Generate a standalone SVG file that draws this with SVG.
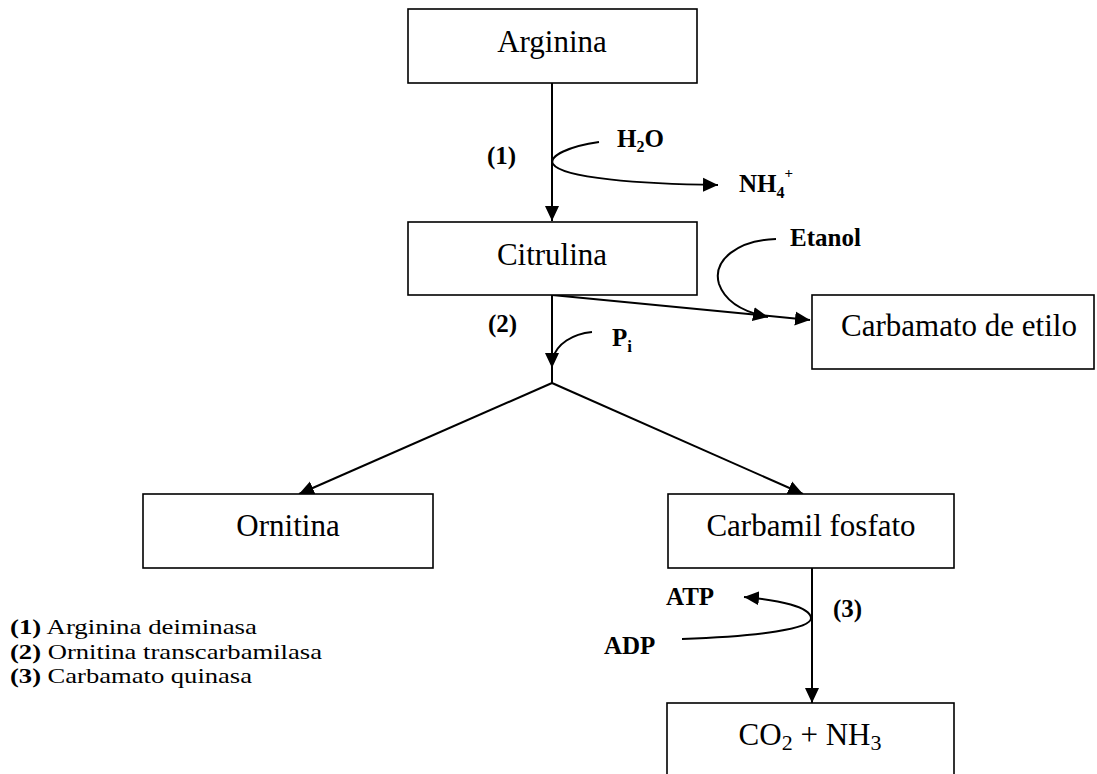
<svg xmlns="http://www.w3.org/2000/svg" width="1097" height="774" viewBox="0 0 1097 774">
<style>
.box{fill:#fff;stroke:#000;stroke-width:1.6}
.node{font-family:"Liberation Serif","Times New Roman",serif;font-size:31px;text-anchor:middle;fill:#000}
.lbl{font-family:"Liberation Serif","Times New Roman",serif;font-size:25px;font-weight:bold;fill:#000}
.leg{font-family:"Liberation Serif","Times New Roman",serif;font-size:22px;fill:#000}
.ln{fill:none;stroke:#000;stroke-width:2}
</style>
<defs>
<marker id="ah" markerUnits="userSpaceOnUse" markerWidth="16" markerHeight="16" viewBox="0 0 16 16" refX="15" refY="8" orient="auto">
<path d="M0,1 L15,8 L0,15 Z" fill="#000"/>
</marker>
</defs>
<g id="connectors">
<path class="ln" d="M552,83 L552,221" marker-end="url(#ah)"/>
<path class="ln" d="M599,142 C570,146 548,156 553,164 C562,178 640,184 718,185" marker-end="url(#ah)"/>
<path class="ln" d="M552,295 L552,368" marker-end="url(#ah)"/>
<path class="ln" d="M552,366 L552,383"/>
<path class="ln" d="M592,332 C572,334 557,344 553,358"/>
<path class="ln" d="M552,295 L810,320" marker-end="url(#ah)"/>
<path class="ln" d="M776,239 C738,240 712,260 719,284 C726,304 748,313 768,317" marker-end="url(#ah)"/>
<path class="ln" d="M552,383 L299,494" marker-end="url(#ah)"/>
<path class="ln" d="M552,383 L803,494" marker-end="url(#ah)"/>
<path class="ln" d="M812,568 L812,703" marker-end="url(#ah)"/>
<path class="ln" d="M682,639 C760,636 812,629 811,618 C810,607 780,600 744,597" marker-end="url(#ah)"/>
</g>
<g id="arginina">
<rect class="box" x="408" y="9" width="289" height="74"/>
<text class="node" x="552" y="52">Arginina</text>
</g>
<g id="citrulina">
<rect class="box" x="408" y="222" width="289" height="73"/>
<text class="node" x="552" y="265">Citrulina</text>
</g>
<g id="carbamato">
<rect class="box" x="812" y="295" width="282" height="74"/>
<text class="node" x="959" y="336">Carbamato de etilo</text>
</g>
<g id="ornitina">
<rect class="box" x="143" y="494" width="290" height="74"/>
<text class="node" x="288" y="536">Ornitina</text>
</g>
<g id="carbamil">
<rect class="box" x="668" y="494" width="286" height="74"/>
<text class="node" x="811" y="536">Carbamil fosfato</text>
</g>
<g id="co2">
<rect class="box" x="667" y="703" width="287" height="80"/>
<text class="node" x="810" y="745">CO<tspan font-size="22" dy="5">2</tspan><tspan dy="-5"> + NH</tspan><tspan font-size="22" dy="5">3</tspan></text>
</g>
<g id="labels">
<text class="lbl" x="487" y="164">(1)</text>
<text class="lbl" x="617" y="147">H<tspan font-size="16" dy="5">2</tspan><tspan dy="-5">O</tspan></text>
<text class="lbl" x="739" y="192">NH<tspan font-size="16" dy="6">4</tspan><tspan font-size="15" dy="-20">+</tspan></text>
<text class="lbl" x="790" y="246">Etanol</text>
<text class="lbl" x="488" y="332">(2)</text>
<text class="lbl" x="612" y="346">P<tspan font-size="17" dy="6">i</tspan></text>
<text class="lbl" x="666" y="605">ATP</text>
<text class="lbl" x="604" y="654">ADP</text>
<text class="lbl" x="833" y="617">(3)</text>
</g>
<g id="legend">
<text class="leg" x="10" y="634" textLength="247" lengthAdjust="spacingAndGlyphs"><tspan font-weight="bold">(1)</tspan> Arginina deiminasa</text>
<text class="leg" x="10" y="659" textLength="312" lengthAdjust="spacingAndGlyphs"><tspan font-weight="bold">(2)</tspan> Ornitina transcarbamilasa</text>
<text class="leg" x="10" y="683" textLength="242" lengthAdjust="spacingAndGlyphs"><tspan font-weight="bold">(3)</tspan> Carbamato quinasa</text>
</g>
</svg>
